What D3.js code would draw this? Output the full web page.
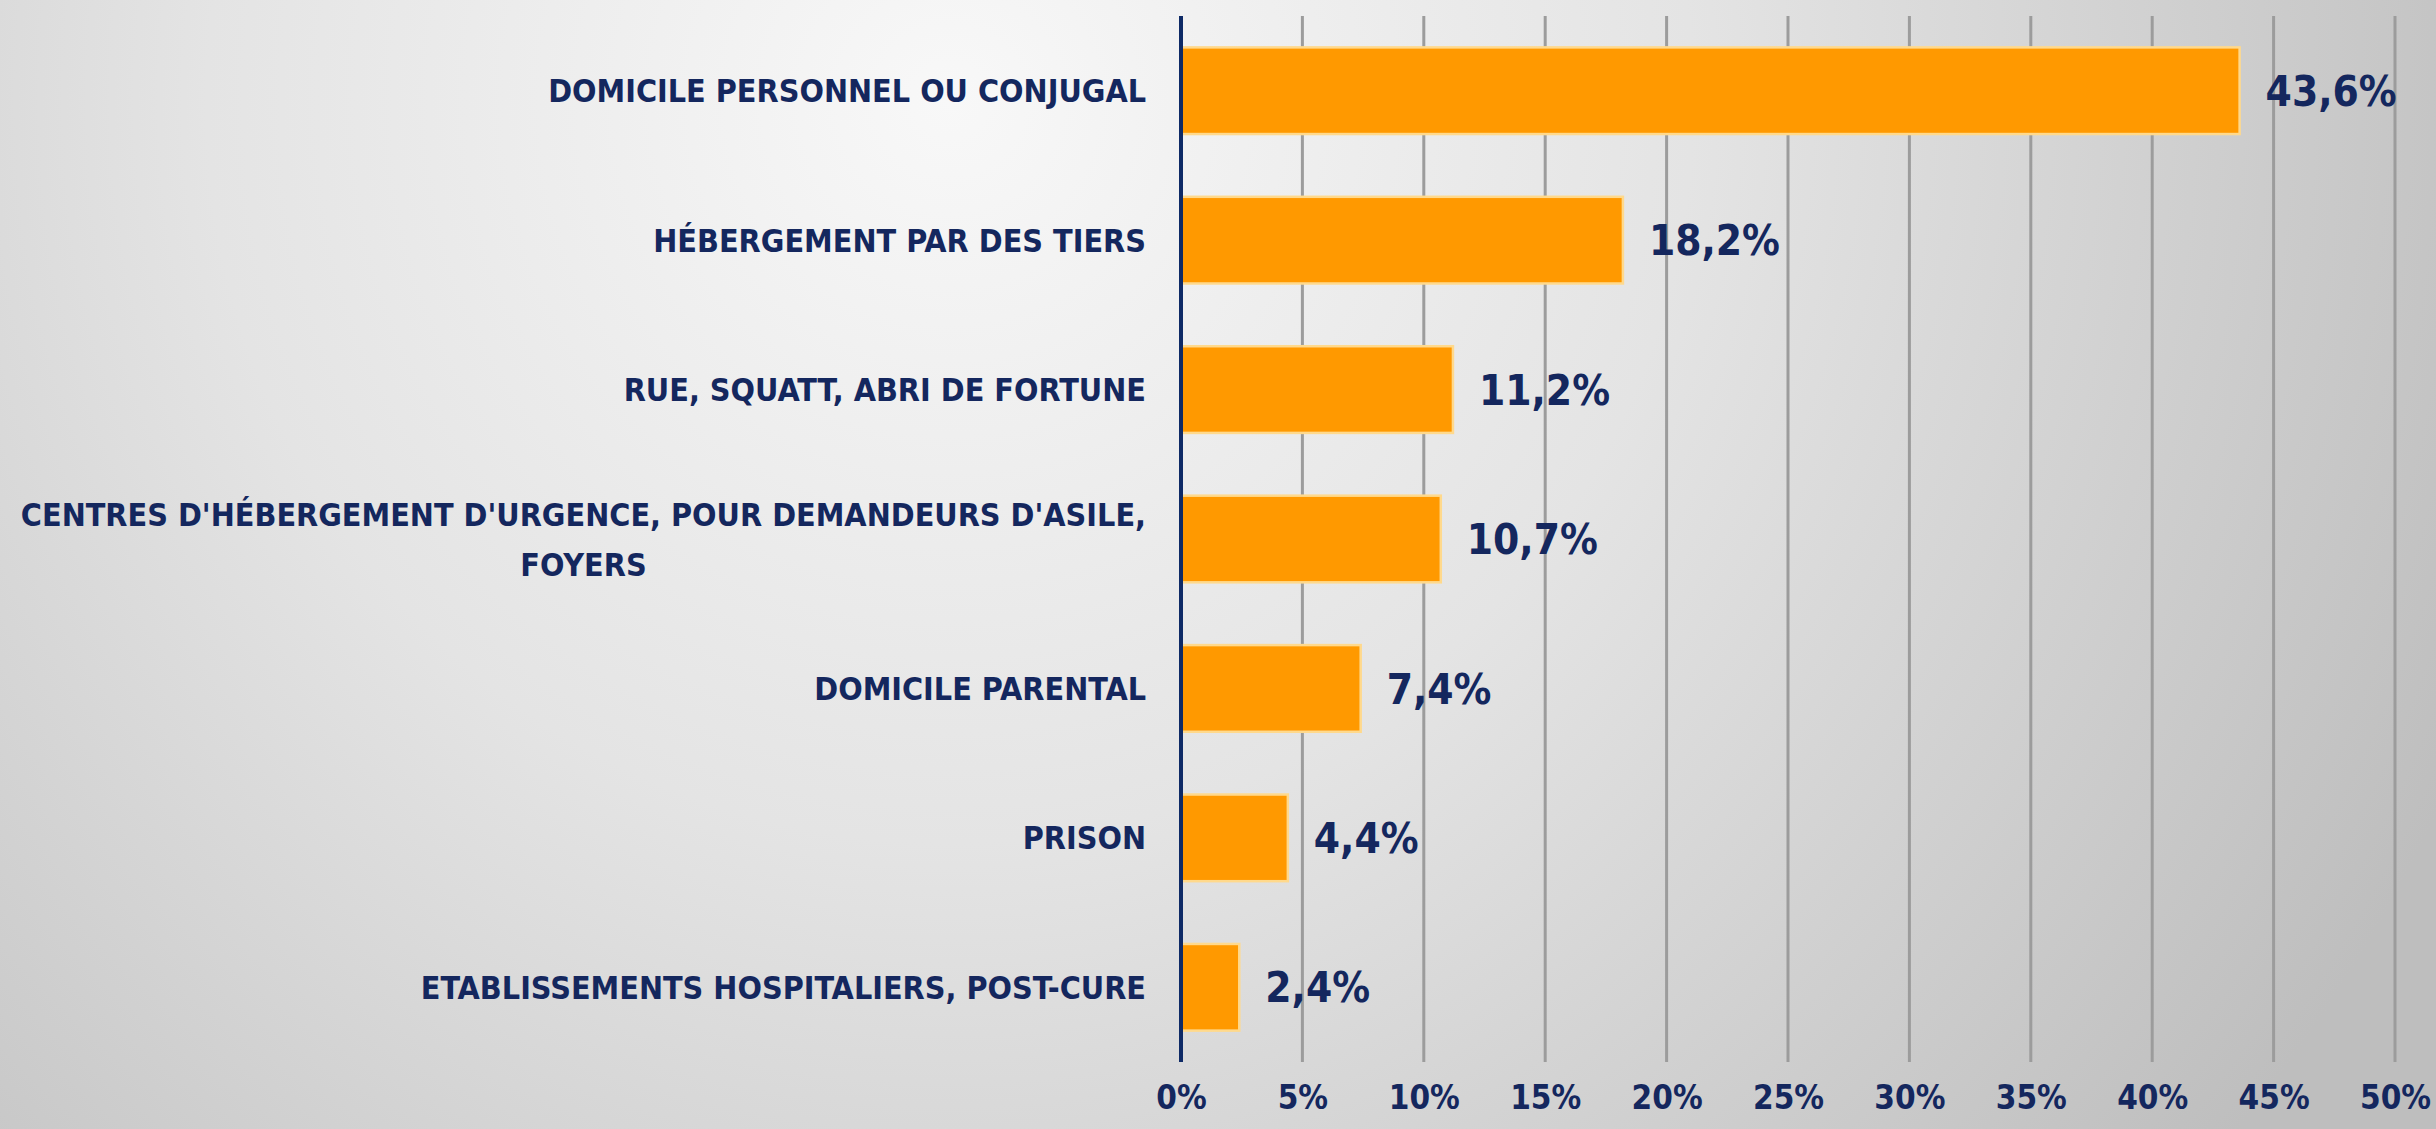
<!DOCTYPE html>
<html>
<head>
<meta charset="utf-8">
<script src="https://cdn.jsdelivr.net/npm/d3@7"></script>
<style>
  html, body { margin: 0; padding: 0; overflow: hidden; }
  svg { display: block; }
  text { font-family: "DejaVu Sans Condensed", "DejaVu Sans", sans-serif; font-weight: bold; fill: #14275E; }
</style>
</head>
<body>
<svg id="chart"></svg>
<script>
// categories, one array of lines per bar (top to bottom)
const categories = [
    ["DOMICILE PERSONNEL OU CONJUGAL"],
    ["HÉBERGEMENT PAR DES TIERS"],
    ["RUE, SQUATT, ABRI DE FORTUNE"],
    ["CENTRES D'HÉBERGEMENT D'URGENCE, POUR DEMANDEURS D'ASILE,", "FOYERS"],
    ["DOMICILE PARENTAL"],
    ["PRISON"],
    ["ETABLISSEMENTS HOSPITALIERS, POST-CURE"],
];
const values = [43.6, 18.2, 11.2, 10.7, 7.4, 4.4, 2.4];
const xTicks = [0, 5, 10, 15, 20, 25, 30, 35, 40, 45, 50];

const width = 2436, height = 1129;
const margin = { top: 16, right: 41, bottom: 67, left: 1181 };

const frLocale = d3.formatLocale({ decimal: ",", thousands: " ", grouping: [3], currency: ["", " €"] });
const fmtValue = frLocale.format(".1f");

const svg = d3.select("#chart").attr("width", width).attr("height", height);

// background gradient
const defs = svg.append("defs");
const grad = defs.append("radialGradient")
    .attr("id", "bg")
    .attr("gradientUnits", "userSpaceOnUse")
    .attr("cx", 950).attr("cy", 100).attr("r", 1650);
grad.append("stop").attr("offset", "0%").attr("stop-color", "#F8F8F8");
grad.append("stop").attr("offset", "45%").attr("stop-color", "#E4E4E4");
grad.append("stop").attr("offset", "100%").attr("stop-color", "#BEBEBE");
svg.append("rect").attr("width", width).attr("height", height).attr("fill", "url(#bg)");

const x = d3.scaleLinear()
    .domain([0, 50])
    .range([margin.left, width - margin.right]);

const y = d3.scaleBand()
    .domain(d3.range(categories.length))
    .range([margin.top, height - margin.bottom])
    .paddingInner(0.42)
    .paddingOuter(0.21);

// vertical gridlines
svg.append("g")
    .selectAll("line")
    .data(xTicks.filter((d) => d > 0))
    .join("line")
    .attr("x1", (d) => x(d)).attr("x2", (d) => x(d))
    .attr("y1", margin.top).attr("y2", height - margin.bottom)
    .attr("stroke", "#9C9C9C")
    .attr("stroke-width", 3);

// x tick labels
const xAxis = svg.append("g")
    .attr("transform", `translate(0,${height - margin.bottom})`)
    .call(d3.axisBottom(x).tickValues(xTicks).tickSize(0).tickPadding(0).tickFormat((d) => d + "%"));
xAxis.select(".domain").remove();
xAxis.selectAll("text")
    .attr("y", 0)
    .attr("dy", "1.42em")
    .style("font-size", "33px")
    .style("font-family", null)
    .attr("fill", "#14275E");

// bars
svg.append("g")
    .selectAll("rect")
    .data(values)
    .join("rect")
    .attr("x", x(0))
    .attr("y", (d, i) => y(i))
    .attr("width", (d) => x(d) - x(0))
    .attr("height", y.bandwidth())
    .attr("fill", "#FF9900")
    .attr("stroke", "#FFD98C")
    .attr("stroke-width", 2.5);

// value labels
svg.append("g")
    .selectAll("text")
    .data(values)
    .join("text")
    .attr("x", (d) => x(d) + 26)
    .attr("y", (d, i) => y(i) + y.bandwidth() / 2)
    .attr("dy", "0.36em")
    .style("font-size", "42px")
    .text((d) => fmtValue(d) + "%");

// category labels
const lineHeight = 50;
const labelRight = margin.left - 35;
const labels = svg.append("g")
    .selectAll("text")
    .data(categories)
    .join("text")
    .style("font-size", "32px")
    .attr("text-anchor", "middle");

labels.each(function (lines, i) {
    const t = d3.select(this);
    const cy = y(i) + y.bandwidth() / 2 - (lines.length - 1) * lineHeight / 2;
    lines.forEach((line, k) => {
        t.append("tspan").attr("y", cy + k * lineHeight).attr("dy", "0.36em").text(line);
    });
    const w = d3.max(t.selectAll("tspan").nodes(), (n) => n.getComputedTextLength());
    t.selectAll("tspan").attr("x", labelRight - w / 2);
});

// axis line
svg.append("line")
    .attr("x1", x(0)).attr("x2", x(0))
    .attr("y1", margin.top).attr("y2", height - margin.bottom)
    .attr("stroke", "#0E2A66")
    .attr("stroke-width", 4);
</script>
</body>
</html>
